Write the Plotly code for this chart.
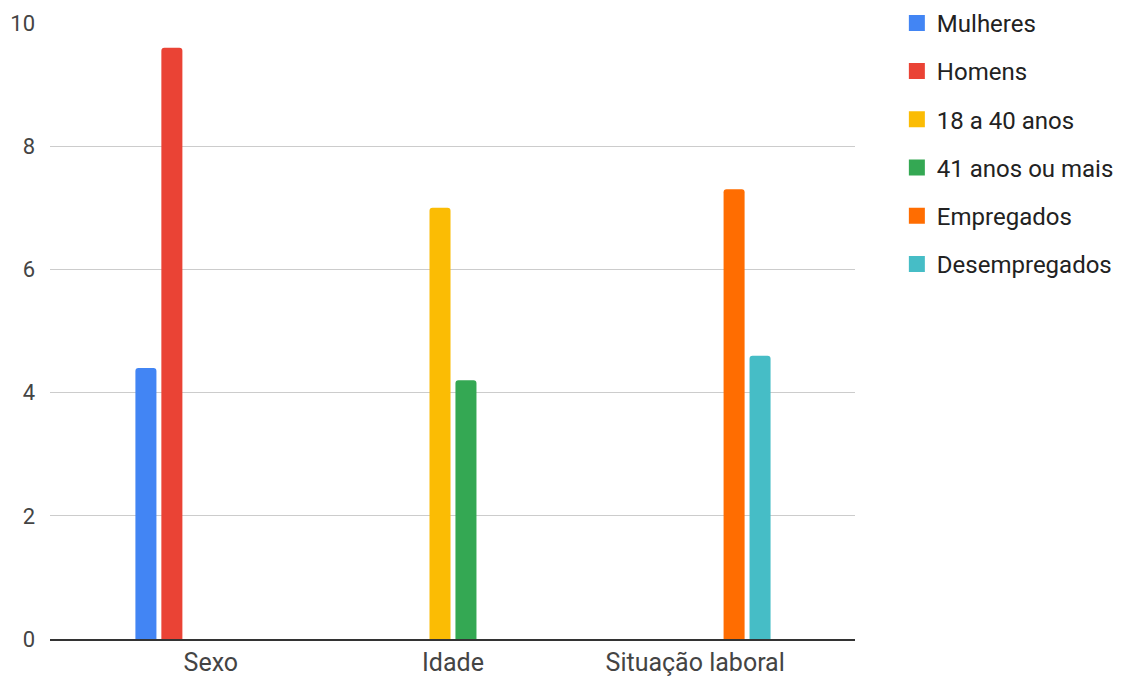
import plotly.graph_objects as go

categories = ["Sexo", "Idade", "Situação laboral"]
series_names = ["Mulheres", "Homens", "18 a 40 anos", "41 anos ou mais", "Empregados", "Desempregados"]
series_values = [
    [4.4, None, None],
    [9.6, None, None],
    [None, 7.0, None],
    [None, 4.2, None],
    [None, None, 7.3],
    [None, None, 4.6],
]
colors = ["#4285F4", "#EA4335", "#FBBC04", "#34A853", "#FF6D01", "#46BDC6"]
y_ticks = [0, 2, 4, 6, 8, 10]

fig = go.Figure()
for i, (name, vals) in enumerate(zip(series_names, series_values)):
    fig.add_trace(go.Bar(
        x=categories, y=vals, name=name, legendgroup=name, showlegend=False,
        marker=dict(color=colors[i], line=dict(width=0)),
    ))
# legend entries (square swatches)
for i, name in enumerate(series_names):
    fig.add_trace(go.Scatter(
        x=[None], y=[None], mode="markers", name=name, legendgroup=name,
        marker=dict(symbol="square", size=16, color=colors[i]),
        hoverinfo="skip",
    ))

fig.update_layout(
    width=1130, height=677,
    margin=dict(l=50, r=275, t=23, b=38, autoexpand=False),
    paper_bgcolor="white", plot_bgcolor="white",
    font=dict(family="Roboto, Arial, sans-serif", size=24, color="#444"),
    barmode="group", bargap=0.357, bargroupgap=0.19, barcornerradius=3,
    showlegend=True,
    legend=dict(
        x=1.052, xanchor="left", y=1.036, yanchor="top",
        font=dict(size=24, color="#222"),
        tracegroupgap=14, bgcolor="rgba(0,0,0,0)",
    ),
    xaxis=dict(
        type="category", range=[-0.664, 2.66], automargin=False,
        showgrid=False, showline=True, linecolor="#333", linewidth=1.5,
        ticks="", tickfont=dict(size=25, color="#444"), ticklabelstandoff=0,
    ),
    yaxis=dict(
        range=[0, 10], tickvals=y_ticks, showgrid=True, gridcolor="#ccc", gridwidth=1,
        zeroline=False, showline=False, ticks="", automargin=False,
        tickfont=dict(size=22, color="#444"), ticklabelstandoff=14,
    ),
)

fig.write_html("out.html")
